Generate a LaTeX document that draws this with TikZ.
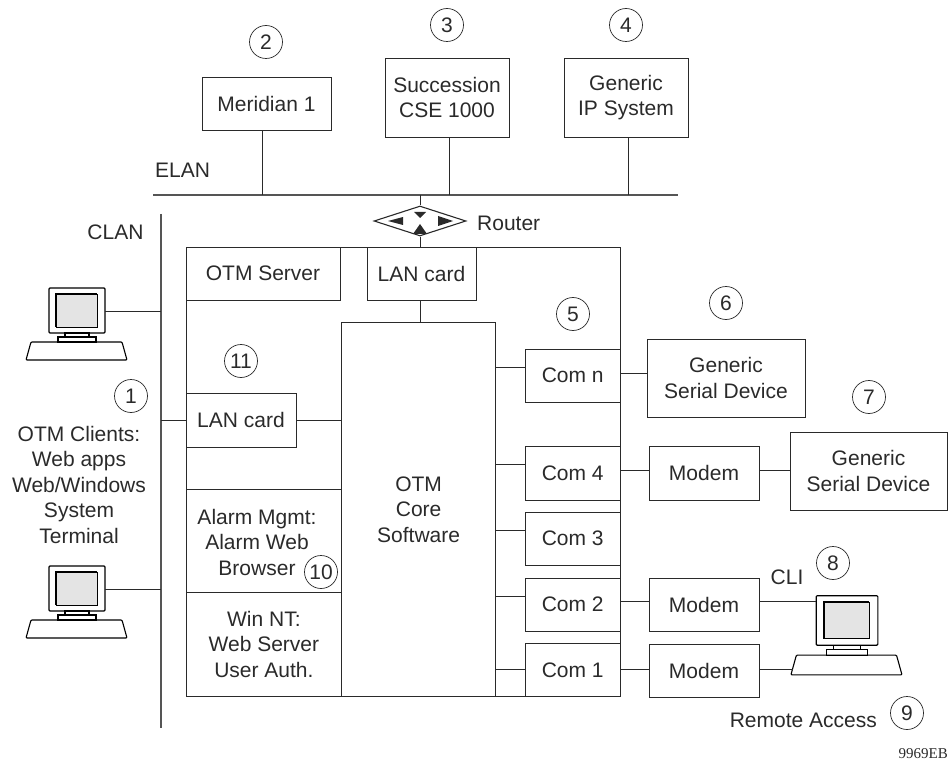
\documentclass[tikz,border=0pt]{standalone}
\usepackage{fontspec}
\setmainfont{Liberation Sans}
\newfontfamily\serialfont{Liberation Serif}
\usetikzlibrary{
  positioning,
  calc,
  shapes.geometric
}
\definecolor{screen}{HTML}{E4E4E4}
\definecolor{ink}{HTML}{2A2A2A}

\tikzset{
  pc/.pic={
    \draw[line width=1.1pt, rounded corners=1pt] (-28,-23) rectangle (28,22);
    \draw[fill=screen, line width=0.7pt] (-21,-17) rectangle (20,16);
    \draw[line width=1.8pt] (-21,16) -- (-21,-17) -- (20,-17);
    \draw[line width=1.1pt] (-12,22) rectangle (12,26);
    \draw[line width=1.1pt] (-19,26) rectangle (19,31);
    \draw[line width=1.1pt, rounded corners=1pt] (-46,31) -- (45,31) -- (50,49) -- (-51,49) -- cycle;
    \coordinate (-monr) at (28,0);
    \coordinate (-monl) at (-28,-18);
    \coordinate (-kbdl) at (-49.5,43.6);
  }
}

\begin{document}
\begin{tikzpicture}[
  x=1pt, y=-1pt,
  abox/.style={draw=ink, line width=0.7pt, align=center, inner sep=0pt, text=ink,
               font=\fontsize{21}{25.5}\selectfont},
  num/.style={draw=ink, circle, line width=0.7pt, minimum size=33pt, inner sep=0pt, text=ink,
              font=\fontsize{21}{24}\selectfont},
  lbl/.style={align=center, inner sep=0pt, text=ink, font=\fontsize{21}{25.5}\selectfont},
  conn/.style={draw=ink, line width=0.8pt},
  lan/.style={draw=ink!80, line width=1.1pt},
]
  \useasboundingbox (0,0) rectangle (948,762);

  % Systems on the ELAN
  \node[abox, minimum width=129pt, minimum height=53pt] (mer) at (266.5, 103.5) {Meridian 1};
  \node[abox, minimum width=124pt, minimum height=79pt] (cse) at (447, 97.5) {Succession\\CSE 1000};
  \node[abox, minimum width=124pt, minimum height=79pt] (gip) at (626, 97.5) {Generic\\IP System};
  \node[num] (n2) at (266, 42) {2};
  \node[num] (n3) at (447, 25) {3};
  \node[num] (n4) at (626, 25) {4};

  \coordinate (elanl) at (153, 195);
  \coordinate (elanr) at (678, 195);
  \draw[lan] (elanl) -- (elanr);
  \node[lbl, anchor=west] (elan) at (155, 170) {ELAN};
  \draw[conn] (mer.south -| 262.5,0) -- (262.5,195);
  \draw[conn] (cse.south -| 449,0) -- (449,195);
  \draw[conn] (gip.south -| 628,0) -- (628,195);

  % Router
  \node[draw=ink, diamond, line width=1.1pt, minimum width=92pt, minimum height=30pt,
        inner sep=0pt, aspect=3] (rtr) at (420, 221) {};
  \fill[ink] (420,224) -- (413,234) -- (427,234) -- cycle;
  \fill[ink] (420,218) -- (414,212) -- (426,212) -- cycle;
  \fill[ink] (388,221) -- (403,217) -- (403,225) -- cycle;
  \fill[ink] (453,221) -- (438,216) -- (438,226) -- cycle;
  \node[lbl, anchor=west] (rlbl) at (477, 223) {Router};
  \draw[conn] (420,195) -- (rtr.north);

  % Server frame
  \node[draw=ink, line width=0.8pt, minimum width=434.5pt, minimum height=449.5pt, inner sep=0pt] (srv) at (403.3, 471.7) {};
  \node[abox, minimum width=154pt, minimum height=53pt] (otm) at (263, 273.5) {OTM Server};
  \node[abox, minimum width=109pt, minimum height=53pt] (lan1) at (421.5, 273.5) {LAN card};
  \node[abox, minimum width=153.8pt, minimum height=373.8pt] (core) at (418.6, 509.6) {OTM\\Core\\Software};
  \node[abox, minimum width=110pt, minimum height=54pt] (lan2) at (241, 420) {LAN card};
  \node[abox, minimum width=155.7pt, minimum height=103pt] (alarm) at (263.9, 540.5) {};
  \node[lbl] (alarmtxt) at (257, 542) {Alarm Mgmt:\\Alarm Web\\Browser};
  \node[abox, minimum width=155.7pt, minimum height=104pt] (win) at (263.9, 644) {Win NT:\\Web Server\\User Auth.};
  \node[num] (n11) at (241, 361) {11};
  \node[num] (n10) at (321, 572) {10};
  \draw[conn] (rtr.south) -- (rtr.south |- lan1.north);
  \draw[conn] (rtr.south |- lan1.south) -- (rtr.south |- core.north);
  \draw[conn] (lan2) -- (lan2 -| core.west);

  % Com ports
  \node[abox, minimum width=95.5pt, minimum height=53pt] (comn) at (572.7, 375.5) {Com n};
  \node[abox, minimum width=95.5pt, minimum height=54pt] (com4) at (572.7, 473) {Com 4};
  \node[abox, minimum width=95.5pt, minimum height=53pt] (com3) at (572.7, 538.5) {Com 3};
  \node[abox, minimum width=95.5pt, minimum height=53pt] (com2) at (572.7, 604.5) {Com 2};
  \node[abox, minimum width=95.5pt, minimum height=53pt] (com1) at (572.7, 670) {Com 1};
  \foreach \c/\yy in {comn/367,com4/464,com3/530,com2/596,com1/669}
    \draw[conn] (\c.west |- 0,\yy) -- (core.east |- 0,\yy);
  \node[num] (n5) at (573, 314) {5};

  % Serial devices and modems
  \node[abox, minimum width=158pt, minimum height=78pt] (ser1) at (726, 378) {Generic\\Serial Device};
  \node[abox, minimum width=157pt, minimum height=78pt] (ser2) at (868.5, 471) {Generic\\Serial Device};
  \node[abox, minimum width=110pt, minimum height=54pt] (mod4) at (704, 473) {Modem};
  \node[abox, minimum width=110pt, minimum height=53pt] (mod2) at (704, 604.5) {Modem};
  \node[abox, minimum width=110pt, minimum height=53pt] (mod1) at (704, 670.5) {Modem};
  \node[num] (n6) at (726, 303) {6};
  \node[num] (n7) at (869, 397) {7};
  \node[num] (n8) at (833, 563) {8};
  \node[num] (n9) at (907, 713) {9};
  \draw[conn] (comn.east |- 0,373) -- (ser1.west |- 0,373);
  \draw[conn] (com4.east |- 0,470) -- (mod4.west |- 0,470);
  \draw[conn] (mod4.east |- 0,470) -- (ser2.west |- 0,470);
  \draw[conn] (com2.east |- 0,601) -- (mod2.west |- 0,601);
  \draw[conn] (com1.east |- 0,669) -- (mod1.west |- 0,669);

  % CLAN and the clients
  \coordinate (clant) at (161, 214);
  \coordinate (clanb) at (161, 728);
  \draw[lan] (clant) -- (clanb);
  \node[lbl] (clan) at (115.5, 232) {CLAN};
  \pic (pc1) at (77, 311) {pc};
  \pic (pc2) at (77, 589) {pc};
  \pic[scale=1.1] (pc3) at (847, 621) {pc};
  \draw[conn] (pc1-monr) -- (pc1-monr -| clant);
  \draw[conn] (pc2-monr) -- (pc2-monr -| clant);
  \draw[conn] (lan2 -| clant) -- (lan2.west);
  \draw[conn] (mod2.east |- pc3-monl) -- (pc3-monl);
  \draw[conn] (mod1.east |- pc3-kbdl) -- (pc3-kbdl);

  \node[num] (n1) at (131, 396) {1};
  \node[lbl] (clients) at (79, 484.5) {OTM Clients:\\Web apps\\Web/Windows\\System\\Terminal};
  \node[lbl] (cli) at (787, 577) {CLI};
  \node[lbl, anchor=east] (remote) at (877, 720) {Remote Access};
  \node[inner sep=0pt, text=ink, font=\serialfont\fontsize{15}{18}\selectfont, anchor=east] (code) at (948, 754) {9969EB};
\end{tikzpicture}
\end{document}
